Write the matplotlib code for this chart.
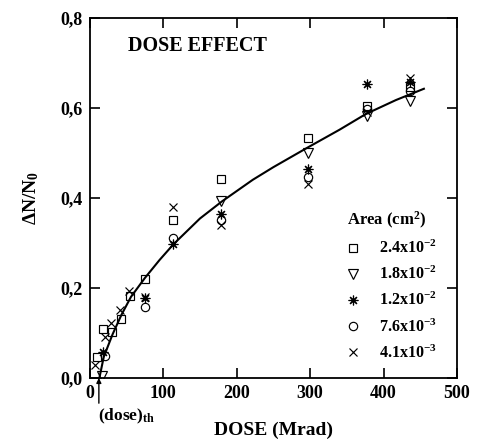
import matplotlib
matplotlib.use("Agg")
import matplotlib.pyplot as plt

plt.rcParams['font.family'] = ['Liberation Serif', 'DejaVu Serif']
plt.rcParams['font.weight'] = 'bold'
plt.rcParams['mathtext.fontset'] = 'custom'
plt.rcParams['mathtext.rm'] = 'Liberation Serif:bold'
plt.rcParams['mathtext.it'] = 'Liberation Serif:italic:bold'
plt.rcParams['mathtext.bf'] = 'Liberation Serif:bold'
plt.rcParams['mathtext.default'] = 'rm'

# measured points, one list per junction area
sq_dose = [9.3, 18.4, 29.7, 42.4, 54.7, 75, 113.6, 178.5, 297, 378, 436]
sq_dn = [0.047, 0.109, 0.101, 0.132, 0.181, 0.22, 0.35, 0.442, 0.533, 0.603, 0.645]

tri_dose = [16.6, 178.5, 297, 378, 436]
tri_dn = [0.005, 0.392, 0.499, 0.581, 0.614]

ast_dose = [18.4, 75, 113.6, 178.5, 297, 377, 436]
ast_dn = [0.058, 0.178, 0.298, 0.364, 0.464, 0.653, 0.656]

circ_dose = [21, 75, 113.6, 178.5, 297, 378, 436]
circ_dn = [0.049, 0.158, 0.31, 0.351, 0.446, 0.596, 0.636]

x_dose = [7.5, 20.6, 28.8, 41.5, 53.7, 75, 113.6, 178.5, 297, 378, 436]
x_dn = [0.029, 0.09, 0.121, 0.151, 0.192, 0.18, 0.379, 0.34, 0.43, 0.59, 0.666]

# fitted curve
fit_dose = [13, 19, 31, 43, 56, 75, 95, 114, 150, 180, 222, 250, 295, 340, 376, 417, 455]
fit_dn = [0, 0.047, 0.097, 0.140, 0.180, 0.222, 0.262, 0.297, 0.354, 0.392, 0.440,
          0.468, 0.510, 0.551, 0.586, 0.617, 0.642]

labels = ['2.4x10$^{-2}$', '1.8x10$^{-2}$', '1.2x10$^{-2}$', '7.6x10$^{-3}$', '4.1x10$^{-3}$']
dose_th = 12.3

fig = plt.figure(figsize=(4.83, 4.40), dpi=100)
ax = fig.add_axes([0.186, 0.141, 0.760, 0.819])

ax.plot(fit_dose, fit_dn, color='black', lw=1.5, zorder=3)

mk = dict(linestyle='none', color='black', mfc='none', mew=0.85, zorder=4)
h1, = ax.plot(sq_dose, sq_dn, marker='s', ms=6, label=labels[0], **mk)
h2, = ax.plot(tri_dose, tri_dn, marker='v', ms=7, label=labels[1], **mk)
h3, = ax.plot(ast_dose, ast_dn, marker=(8, 2, 0), ms=7, label=labels[2], **mk)
h4, = ax.plot(circ_dose, circ_dn, marker='o', ms=6, label=labels[3], **mk)
h5, = ax.plot(x_dose, x_dn, marker='x', ms=6, label=labels[4], **mk)

ax.set_xlim(0, 500)
ax.set_ylim(0, 0.8)
ax.set_xticks([0, 100, 200, 300, 400, 500])
ax.set_yticks([0.0, 0.2, 0.4, 0.6, 0.8])
ax.set_yticklabels(['0,0', '0,2', '0,4', '0,6', '0,8'])
ax.tick_params(direction='in', length=7, width=1.2, top=True, right=True, labelsize=13, pad=5)
for sp in ax.spines.values():
    sp.set_linewidth(1.3)

ax.set_xlabel('DOSE (Mrad)', fontsize=14, fontweight='bold', labelpad=14)
ax.set_ylabel(r'$\Delta$N/N$_0$', fontsize=14, fontweight='bold', labelpad=14)

ax.text(52, 0.738, 'DOSE EFFECT', fontsize=14.5, fontweight='bold', va='center', ha='left')

# threshold dose arrow and label
ax.annotate('', xy=(dose_th, 0.0), xytext=(dose_th, -0.056),
            xycoords='data', annotation_clip=False,
            arrowprops=dict(arrowstyle='-|>', color='black', lw=1, mutation_scale=7,
                            shrinkA=0, shrinkB=0))
ax.text(dose_th - 1.5, -0.063, '(dose)$_{th}$', fontsize=12.5, fontweight='bold',
        ha='left', va='top', clip_on=False)

leg = ax.legend(handles=[h1, h2, h3, h4, h5], title='Area (cm$^2$)', loc='upper left',
                bbox_to_anchor=(0.68, 0.488), frameon=False, fontsize=11.5,
                title_fontsize=12, handlelength=0.7, handletextpad=1.3,
                labelspacing=0.55, borderpad=0, alignment='left')
leg.get_title().set_fontweight('bold')

fig.savefig('out.png', dpi=100)
